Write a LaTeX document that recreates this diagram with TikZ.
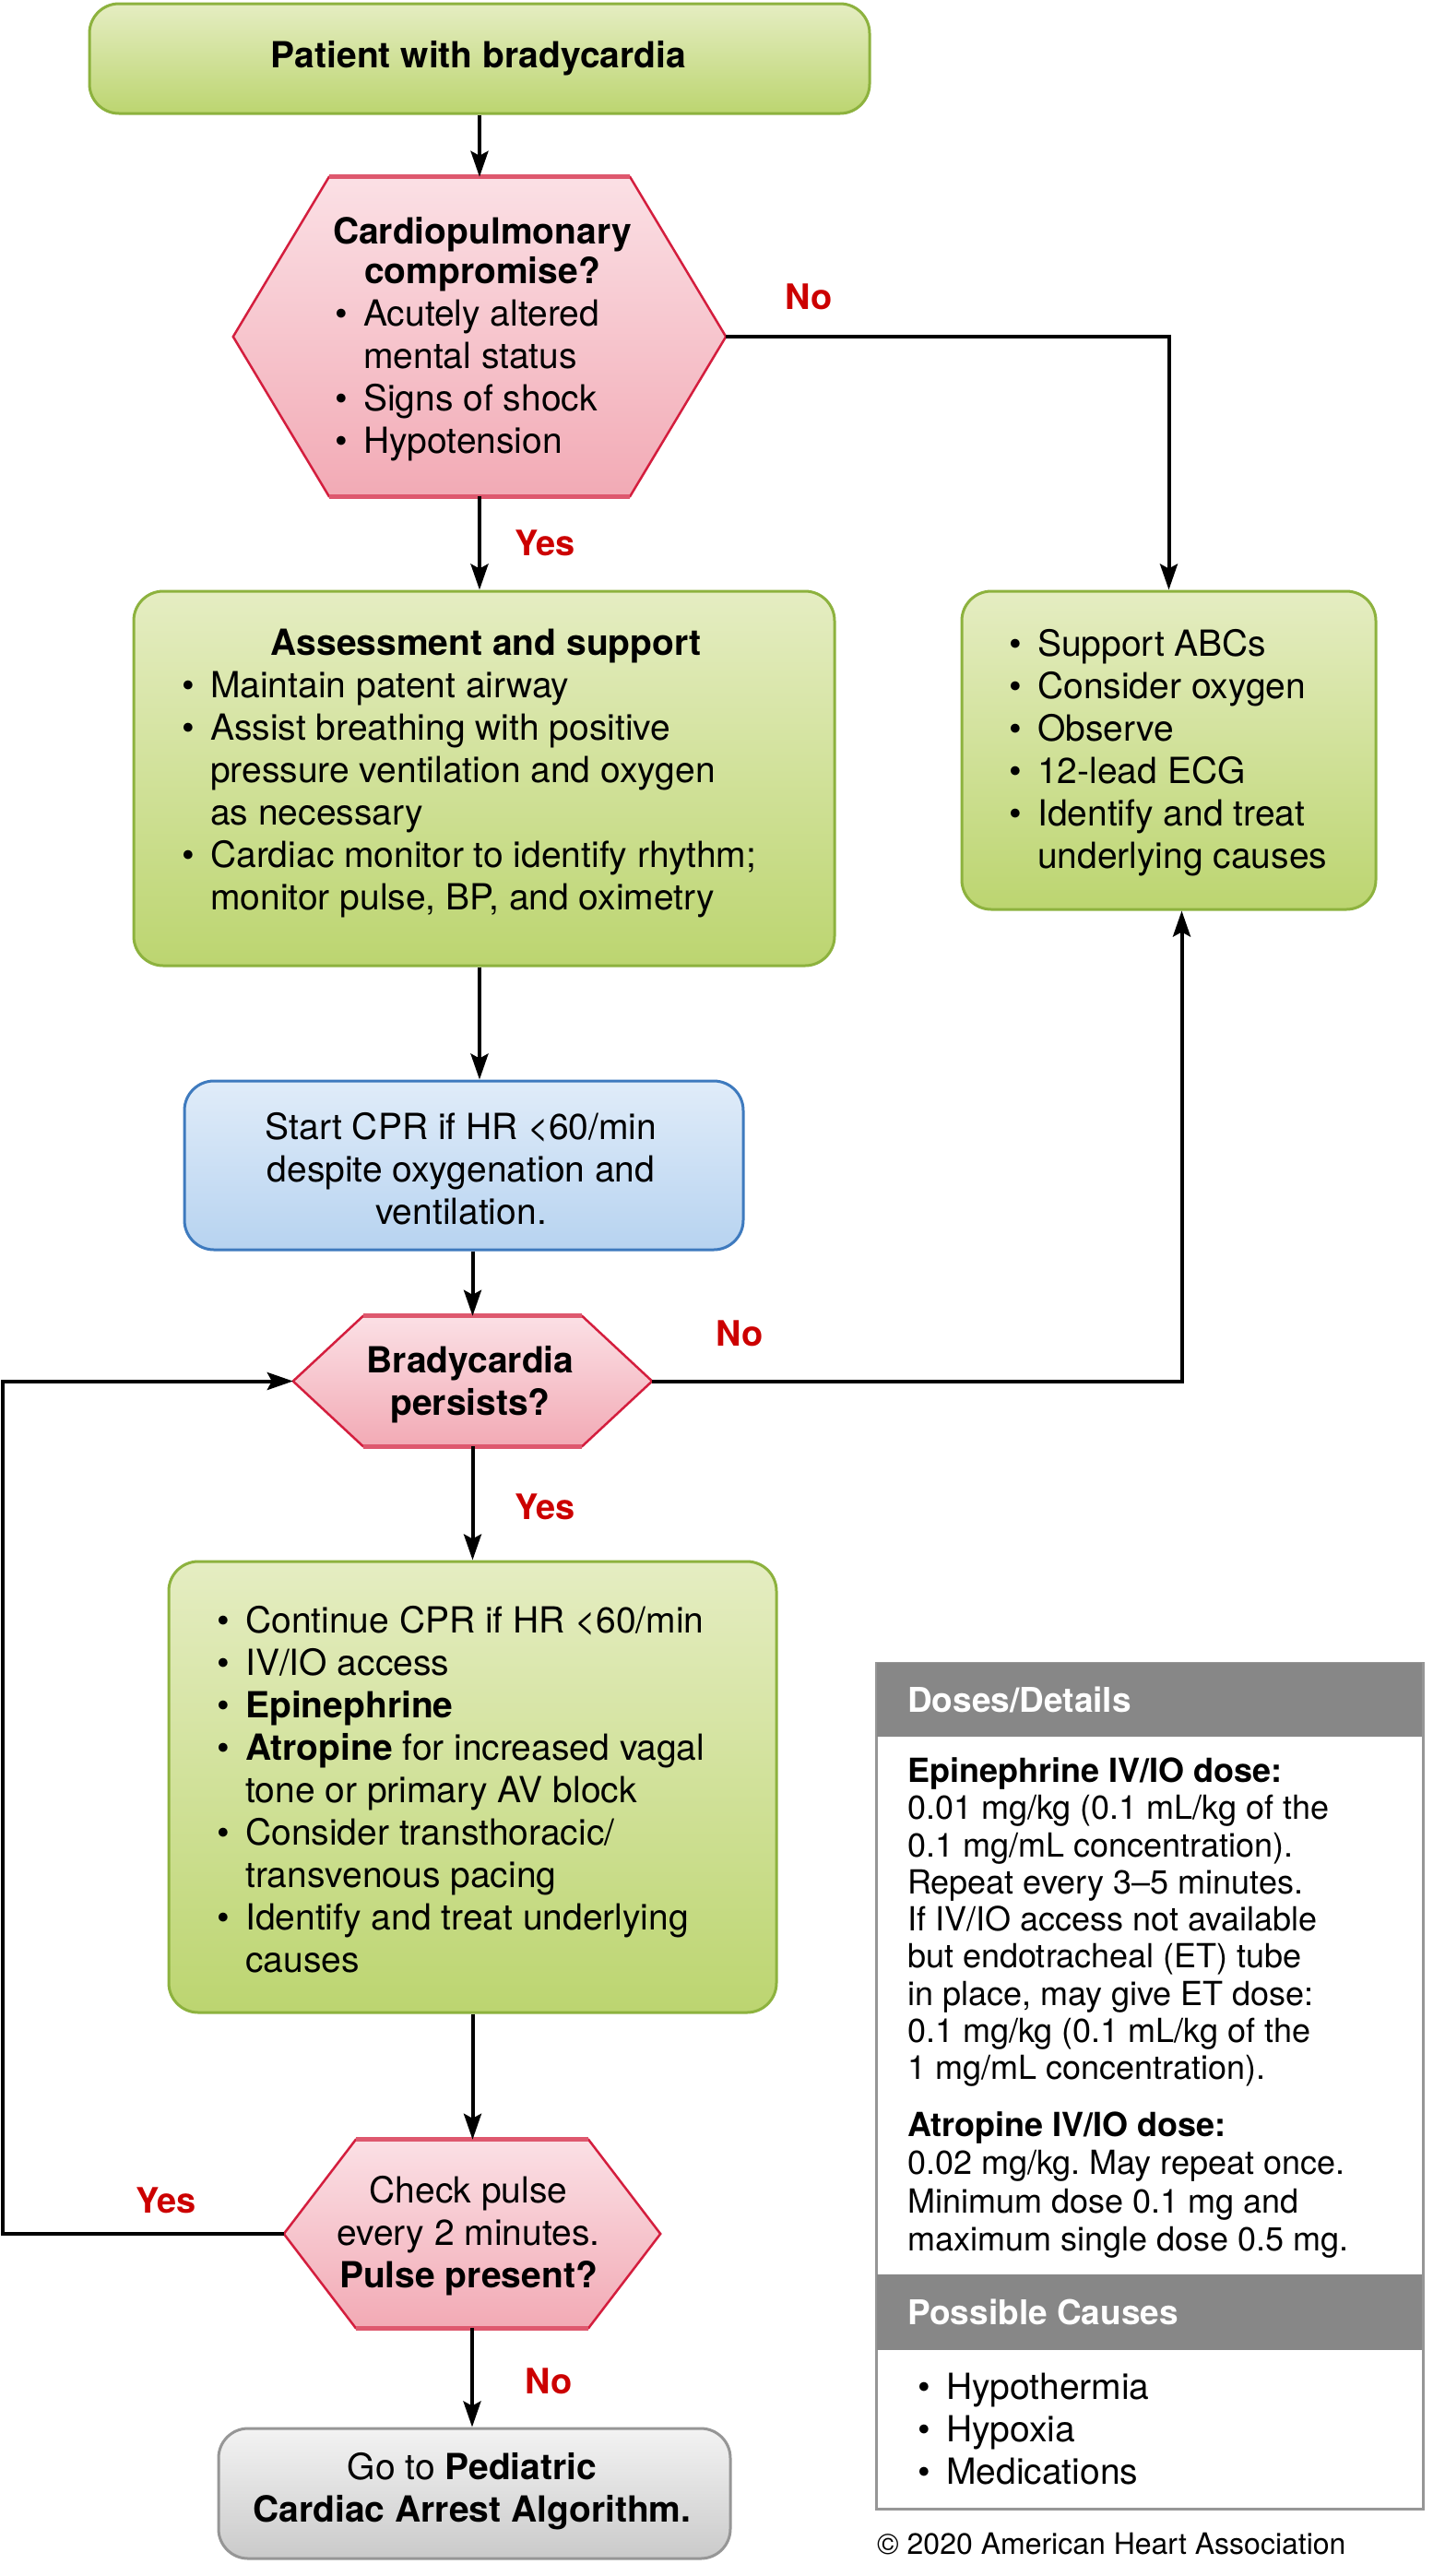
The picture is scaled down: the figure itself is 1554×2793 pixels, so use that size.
\documentclass[tikz,border=0pt]{standalone}
\usepackage{fontspec}
\setmainfont{TeX Gyre Heros}
\usetikzlibrary{arrows.meta,calc}
\frenchspacing
\definecolor{greenT}{RGB}{229,237,194}
\definecolor{greenM}{RGB}{220,232,172}
\definecolor{greenD}{RGB}{188,213,112}
\definecolor{greenB}{RGB}{141,178,62}
\definecolor{pinkT}{RGB}{251,224,229}
\definecolor{pinkD}{RGB}{242,170,181}
\definecolor{pinkB}{RGB}{212,30,62}
\definecolor{pinkE}{RGB}{222,88,110}
\definecolor{blueT}{RGB}{224,236,249}
\definecolor{blueD}{RGB}{183,211,240}
\definecolor{blueB}{RGB}{62,122,190}
\definecolor{grayT}{RGB}{243,243,243}
\definecolor{grayD}{RGB}{202,202,202}
\definecolor{grayB}{RGB}{150,150,150}
\definecolor{hdrG}{RGB}{135,135,135}
\definecolor{lblR}{RGB}{204,0,0}
\newcommand{\mainfs}{\fontsize{39pt}{46pt}\selectfont}
\newcommand{\hdfs}{\fontsize{39pt}{43pt}\selectfont\bfseries}
\newcommand{\panfs}{\fontsize{36pt}{40.25pt}\selectfont}
\newcommand{\panfsb}{\fontsize{36pt}{41.3pt}\selectfont}
\newcommand{\lblfs}{\fontsize{38pt}{44pt}\selectfont\bfseries\color{lblR}}
\newcommand{\mybul}{\makebox[31pt][l]{\textbullet}}
\newcommand{\myind}{\hspace*{31pt}}
\newcommand{\hexdraw}[2]{%
  \draw[hexfill] (#1.west) -- ([xshift=#2]#1.north west) -- ([xshift=-#2]#1.north east) -- (#1.east) -- ([xshift=-#2]#1.south east) -- ([xshift=#2]#1.south west) -- cycle;
  \draw[hexedge] ([xshift=#2]#1.north west) -- ([xshift=-#2]#1.north east);
  \draw[hexedge] ([xshift=#2]#1.south west) -- ([xshift=-#2]#1.south east);}
\tikzset{
  conn/.style={line width=4pt, draw=black, -{Stealth[length=28pt,width=19pt,inset=5pt]}},
  greenbox/.style={draw=greenB, line width=3pt, rounded corners=32pt, top color=greenT, middle color=greenM, bottom color=greenD, inner sep=0pt},
  bluebox/.style={draw=blueB, line width=3pt, rounded corners=32pt, top color=blueT, bottom color=blueD, inner sep=0pt},
  graybox/.style={draw=grayB, line width=3pt, rounded corners=32pt, top color=grayT, bottom color=grayD, inner sep=0pt},
  hexnode/.style={draw=none, fill=none, inner sep=0pt},
  hexfill/.style={draw=pinkB, line width=2.5pt, top color=pinkT, bottom color=pinkD, line join=miter},
  hexedge/.style={draw=pinkE, line width=5pt},
  txt/.style={inner sep=0pt, font=\mainfs, text=black},
  lbl/.style={inner sep=0pt, font=\lblfs},
  panelbox/.style={draw=grayB, line width=3pt, fill=white, inner sep=0pt},
  hdrbox/.style={fill=hdrG, draw=none, inner sep=0pt},
  hdrtxt/.style={inner sep=0pt, font=\fontsize{37pt}{44pt}\selectfont\bfseries, text=white}
}
\begin{document}
\begin{tikzpicture}[x=1pt,y=-1pt]
\useasboundingbox (0,0) rectangle (1554,2793);
\fill[white] (0,0) rectangle (1554,2793);

% shapes
\node[greenbox, minimum width=846pt, minimum height=119pt] (top) at (520,63.5) {};
\node[hexnode, minimum width=534pt, minimum height=346pt] (h1) at (520,365) {};
\hexdraw{h1}{104pt}
\node[greenbox, minimum width=760pt, minimum height=406pt] (assess) at (525,844) {};
\node[greenbox, minimum width=449pt, minimum height=345pt] (rbox) at (1267.5,813.5) {};
\node[bluebox, minimum width=606pt, minimum height=183pt] (blue) at (503,1263.5) {};
\node[hexnode, minimum width=389pt, minimum height=141pt] (bh) at (512.5,1497.5) {};
\hexdraw{bh}{76pt}
\node[greenbox, minimum width=659pt, minimum height=489pt] (gthree) at (512.5,1937.5) {};
\node[hexnode, minimum width=408pt, minimum height=204pt] (ph) at (512,2422) {};
\hexdraw{ph}{78pt}
\node[graybox, minimum width=555pt, minimum height=141pt] (gray) at (514.5,2703.5) {};

% panel
\node[panelbox, minimum width=593pt, minimum height=917pt] (pnl) at (1246.5,2261.5) {};
\node[hdrbox, minimum width=591pt, minimum height=80pt] (hdra) at (1246.5,1843) {};
\node[hdrbox, minimum width=591pt, minimum height=82pt] (hdrb) at (1246.5,2507) {};

% texts
\node[txt, font=\mainfs\bfseries] (t0) at (519,63) {Patient with bradycardia};
\node[txt, font=\hdfs, align=center] (h1hd) at (523,276) {Cardiopulmonary\\compromise?};
\node[txt, align=left, anchor=west] (h1bl) at (363,413) {\mybul Acutely altered\\\myind mental status\\\mybul Signs of shock\\\mybul Hypotension};
\node[txt, font=\mainfs\bfseries] (ashd) at (527,701) {Assessment and support};
\node[txt, align=left, anchor=west] (asbl) at (197,862) {\mybul Maintain patent airway\\\mybul Assist breathing with positive\\\myind pressure ventilation and oxygen\\\myind as necessary\\\mybul Cardiac monitor to identify rhythm;\\\myind monitor pulse, BP, and oximetry};
\node[txt, align=left, anchor=west] (rbl) at (1094,816) {\mybul Support ABCs\\\mybul Consider oxygen\\\mybul Observe\\\mybul 12-lead ECG\\\mybul Identify and treat\\\myind underlying causes};
\node[txt, align=center] (bltx) at (500,1267) {Start CPR if HR <60/min\\despite oxygenation and\\ventilation.};
\node[txt, font=\mainfs\bfseries, align=center] (bhtx) at (510,1501) {Bradycardia\\persists?};
\node[txt, align=left, anchor=west] (gbl) at (235,1940) {\mybul Continue CPR if HR <60/min\\\mybul IV/IO access\\\mybul \textbf{Epinephrine}\\\mybul \textbf{Atropine} for increased vagal\\\myind tone or primary AV block\\\mybul Consider transthoracic/\\\myind transvenous pacing\\\mybul Identify and treat underlying\\\myind causes};
\node[txt, align=center] (phtx) at (508,2424) {Check pulse\\every 2 minutes.\\\textbf{Pulse present?}};
\node[txt, align=center] (grtx) at (512,2701) {Go to \textbf{Pediatric}\\\textbf{Cardiac Arrest Algorithm.}};

\node[hdrtxt, anchor=west] (hdatx) at (984,1843) {Doses/Details};
\node[txt, font=\panfs, align=left, anchor=west] (pa) at (984,2084) {\textbf{Epinephrine IV/IO dose:}\\0.01 mg/kg (0.1 mL/kg of the\\0.1 mg/mL concentration).\\Repeat every 3–5 minutes.\\If IV/IO access not available\\but endotracheal (ET) tube\\in place, may give ET dose:\\0.1 mg/kg (0.1 mL/kg of the\\1 mg/mL concentration).};
\node[txt, font=\panfsb, align=left, anchor=west] (pb) at (984,2369) {\textbf{Atropine IV/IO dose:}\\0.02 mg/kg. May repeat once.\\Minimum dose 0.1 mg and\\maximum single dose 0.5 mg.};
\node[hdrtxt, anchor=west] (hdbtx) at (984,2507) {Possible Causes};
\node[txt, align=left, anchor=west] (pc) at (995,2634) {\mybul Hypothermia\\\mybul Hypoxia\\\mybul Medications};
\node[txt, font=\fontsize{32pt}{38pt}\selectfont, anchor=west] (copy) at (951,2758) {© 2020 American Heart Association};

% labels
\node[lbl] (no1) at (877,322) {No};
\node[lbl] (yes1) at (591,589) {Yes};
\node[lbl] (no2) at (802,1446) {No};
\node[lbl] (yes2) at (591,1634) {Yes};
\node[lbl] (yes3) at (180,2386) {Yes};
\node[lbl] (no3) at (595,2582) {No};

% connectors
\coordinate (loopL) at (3,0);
\draw[conn] (top.south -| h1.north) -- (h1.north);
\draw[conn] (h1.south) -- (h1.south |- assess.north);
\draw[conn] (h1.east) -| (rbox.north);
\draw[conn] (h1.south |- assess.south) -- (h1.south |- blue.north);
\draw[conn] (bh.north |- blue.south) -- (bh.north);
\draw[conn] (bh.east) -| ([xshift=14pt]rbox.south);
\draw[conn] (bh.south) -- (bh.south |- gthree.north);
\draw[conn] (bh.south |- gthree.south) -- (bh.south |- ph.north);
\draw[conn] (ph.south) -- (ph.south |- gray.north);
\draw[conn] (ph.west) -- (loopL |- ph.west) -- (loopL |- bh.west) -- (bh.west);
\end{tikzpicture}
\end{document}
